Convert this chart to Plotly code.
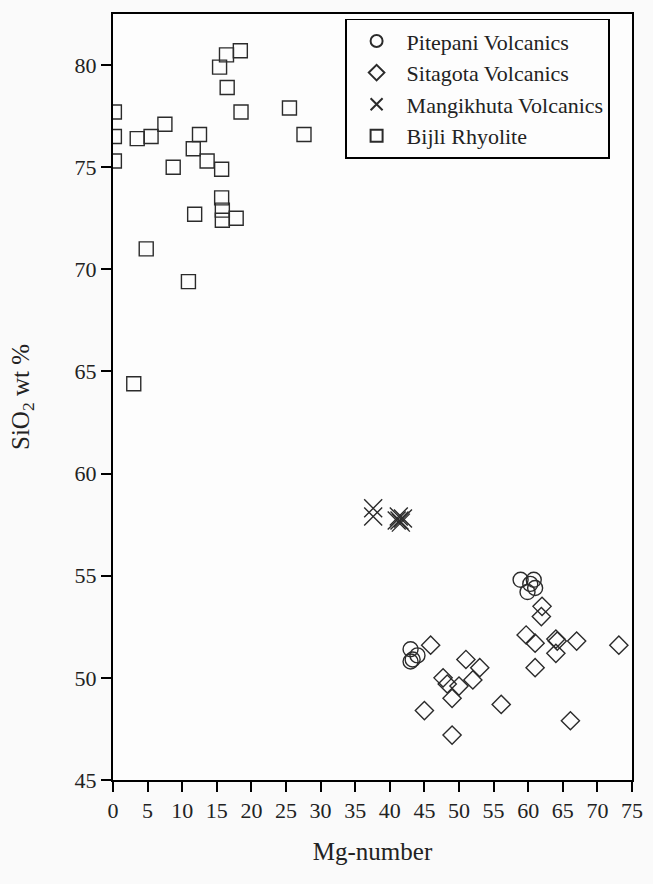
import plotly.graph_objects as go

# Mg-number vs SiO2 (wt %) for the four volcanic suites
pitepani_mg = [43.0, 43.3, 44.0, 43.0, 58.9, 60.8, 61.0, 59.9, 60.3]
pitepani_si = [51.4, 50.9, 51.1, 50.8, 54.8, 54.8, 54.4, 54.2, 54.6]

sitagota_mg = [45.9, 51.0, 53.0, 52.0, 47.7, 48.3, 50.0, 49.0, 45.0, 49.0, 56.1,
               62.0, 61.9, 59.7, 61.0, 64.0, 64.2, 64.0, 67.0, 61.0, 73.1, 66.1]
sitagota_si = [51.6, 50.9, 50.5, 49.9, 50.0, 49.7, 49.6, 49.0, 48.4, 47.2, 48.7,
               53.5, 53.0, 52.1, 51.7, 51.9, 51.8, 51.2, 51.8, 50.5, 51.6, 47.9]

mangikhuta_mg = [37.6, 37.6, 41.0, 41.3, 41.6, 41.9, 41.4]
mangikhuta_si = [58.3, 57.9, 57.7, 57.9, 57.6, 57.8, 57.7]

bijli_mg = [18.4, 16.4, 15.4, 16.5, 18.5, 25.5, 27.6, 0.2, 0.2, 0.2, 3.5, 5.5, 7.5,
            12.5, 11.6, 13.6, 15.7, 8.7, 15.7, 15.8, 15.8, 17.8, 11.8, 4.8, 10.9, 3.0]
bijli_si = [80.7, 80.5, 79.9, 78.9, 77.7, 77.9, 76.6, 77.7, 76.5, 75.3, 76.4, 76.5, 77.1,
            76.6, 75.9, 75.3, 74.9, 75.0, 73.5, 72.9, 72.4, 72.5, 72.7, 71.0, 69.4, 64.4]

x_ticks = list(range(0, 80, 5))
y_ticks = list(range(45, 85, 5))

FONT = "Liberation Serif"
INK = "#2b2b2b"

series = [
    ("Pitepani Volcanics", pitepani_mg, pitepani_si, "circle-open", 15),
    ("Sitagota Volcanics", sitagota_mg, sitagota_si, "diamond-open", 14),
    ("Mangikhuta Volcanics", mangikhuta_mg, mangikhuta_si, "x-thin-open", 18),
    ("Bijli Rhyolite", bijli_mg, bijli_si, "square-open", 14),
]

fig = go.Figure()
for name, xs, ys, sym, size in series:
    fig.add_trace(go.Scatter(
        x=xs, y=ys, mode="markers", name=name,
        marker=dict(symbol=sym, size=size, color=INK,
                    line=dict(width=1.4, color=INK)),
    ))

axis_common = dict(
    showline=True, linecolor="black", linewidth=2, mirror=True,
    ticks="outside", ticklen=10, tickwidth=1.8, tickcolor="black",
    showgrid=False, zeroline=False,
    tickfont=dict(family=FONT, size=22, color="#222"),
)

fig.update_layout(
    width=653, height=884,
    margin=dict(l=113, r=10, t=14, b=104),
    paper_bgcolor="#fafafa", plot_bgcolor="#fdfdfd",
    showlegend=True,
    legend=dict(
        x=0.447, y=0.994, xanchor="left", yanchor="top",
        bgcolor="rgba(255,255,255,0)", bordercolor="black", borderwidth=1.6,
        font=dict(family=FONT, size=22, color="#222"),
        itemsizing="constant", itemwidth=50,
    ),
    xaxis=dict(range=[0, 75], tickvals=x_ticks,
               title=dict(text="Mg-number", standoff=20,
                          font=dict(family=FONT, size=25, color="#222")),
               **axis_common),
    yaxis=dict(range=[45, 82.5], tickvals=y_ticks,
               title=dict(text="SiO<sub>2</sub> wt %", standoff=38,
                          font=dict(family=FONT, size=25, color="#222")),
               **axis_common),
)

fig.write_html("out.html")
